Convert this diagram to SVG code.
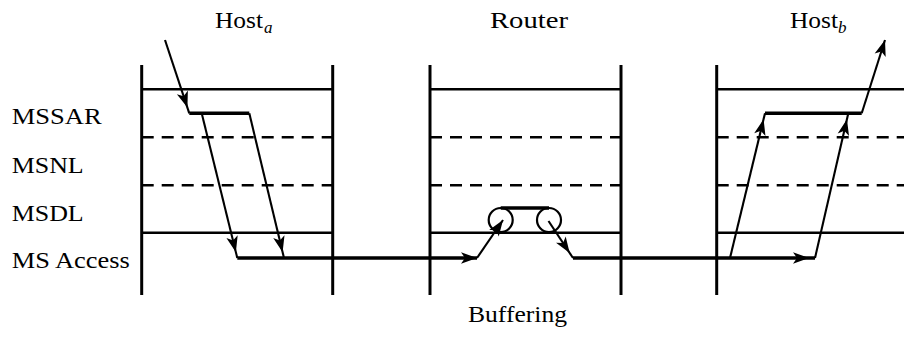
<svg xmlns="http://www.w3.org/2000/svg" width="904" height="337" viewBox="0 0 904 337">
  <style>
    .lbl { font-family: "Liberation Serif", "Times New Roman", serif; font-size: 24px; fill: #000; }
    .sub { font-family: "Liberation Serif", "Times New Roman", serif; font-size: 17px; font-style: italic; fill: #000; }
    .wall { stroke: #000; stroke-width: 3; fill: none; }
    .layer { stroke: #000; stroke-width: 2.4; fill: none; }
    .dash { stroke: #000; stroke-width: 2.4; stroke-dasharray: 12 8; fill: none; }
    .flow { stroke: #000; stroke-width: 3.6; fill: none; stroke-linejoin: miter; }
    .thin { stroke: #000; stroke-width: 2.1; fill: none; }
    .buf { stroke: #000; stroke-width: 2.2; fill: none; }
  </style>
  <defs>
    <!-- filled arrowhead, tip exactly at the path end -->
    <marker id="tip" markerUnits="userSpaceOnUse" viewBox="-17 -7 18 14" refX="0" refY="0" markerWidth="18" markerHeight="14" orient="auto">
      <path d="M0,0 L-16,-5.8 L-12,0 L-16,5.8 Z" fill="#000"/>
    </marker>
    <!-- same arrowhead, tip drawn a few pixels before the path end -->
    <marker id="tipBack" markerUnits="userSpaceOnUse" viewBox="-17 -7 24 14" refX="6" refY="0" markerWidth="24" markerHeight="14" orient="auto">
      <path d="M0,0 L-16,-5.8 L-12,0 L-16,5.8 Z" fill="#000"/>
    </marker>
  </defs>

  <!-- layer names -->
  <g id="layer-labels">
    <text class="lbl" x="11.7" y="124" textLength="90" lengthAdjust="spacingAndGlyphs">MSSAR</text>
    <text class="lbl" x="11.7" y="173" textLength="72" lengthAdjust="spacingAndGlyphs">MSNL</text>
    <text class="lbl" x="11.7" y="221" textLength="72" lengthAdjust="spacingAndGlyphs">MSDL</text>
    <text class="lbl" x="11.7" y="268" textLength="118" lengthAdjust="spacingAndGlyphs">MS Access</text>
  </g>

  <!-- sending host stack -->
  <g id="host-a">
    <text class="lbl" x="215" y="28" textLength="48" lengthAdjust="spacingAndGlyphs">Host</text>
    <text class="sub" x="264" y="33">a</text>
    <line class="wall" x1="141.7" y1="65" x2="141.7" y2="295"/>
    <line class="wall" x1="332.7" y1="65" x2="332.7" y2="295"/>
    <line class="layer" x1="141.7" y1="89.3" x2="332.7" y2="89.3"/>
    <line class="dash" x1="141.7" y1="137.3" x2="332.7" y2="137.3"/>
    <line class="dash" x1="141.7" y1="185.3" x2="332.7" y2="185.3"/>
    <line class="layer" x1="141.7" y1="232.7" x2="332.7" y2="232.7"/>
  </g>

  <!-- router stack -->
  <g id="router">
    <text class="lbl" x="490" y="28" textLength="78" lengthAdjust="spacingAndGlyphs">Router</text>
    <line class="wall" x1="430" y1="65" x2="430" y2="295"/>
    <line class="wall" x1="621" y1="65" x2="621" y2="295"/>
    <line class="layer" x1="430" y1="89.3" x2="621" y2="89.3"/>
    <line class="dash" x1="430" y1="137.3" x2="621" y2="137.3"/>
    <line class="dash" x1="430" y1="185.3" x2="621" y2="185.3"/>
    <line class="layer" x1="430" y1="232.7" x2="621" y2="232.7"/>
  </g>

  <!-- receiving host stack -->
  <g id="host-b">
    <text class="lbl" x="790" y="28" textLength="48" lengthAdjust="spacingAndGlyphs">Host</text>
    <text class="sub" x="838" y="33">b</text>
    <line class="wall" x1="716.7" y1="65" x2="716.7" y2="295"/>
    <line class="layer" x1="716.7" y1="89.3" x2="904" y2="89.3"/>
    <line class="dash" x1="716.7" y1="137.3" x2="904" y2="137.3"/>
    <line class="dash" x1="716.7" y1="185.3" x2="904" y2="185.3"/>
    <line class="layer" x1="716.7" y1="232.7" x2="904" y2="232.7"/>
  </g>

  <!-- buffer queue inside the router -->
  <g id="buffer">
    <circle class="buf" cx="500.7" cy="220" r="12"/>
    <circle class="buf" cx="549" cy="220" r="12"/>
    <line class="flow" x1="500.7" y1="208" x2="549" y2="208"/>
    <text class="lbl" x="468" y="322" textLength="99" lengthAdjust="spacingAndGlyphs">Buffering</text>
  </g>

  <!-- message path -->
  <g id="connectors">
    <path class="thin" d="M165,40 L189.3,113.3" marker-end="url(#tipBack)"/>
    <path class="flow" d="M189.3,113.3 H249.3"/>
    <path class="thin" d="M201.7,113.3 L237.3,258" marker-end="url(#tipBack)"/>
    <path class="thin" d="M249.3,113.3 L284,258" marker-end="url(#tipBack)"/>
    <path class="flow" d="M237.3,258 H477" marker-end="url(#tip)"/>
    <path class="thin" d="M477,258 L503,220" marker-end="url(#tip)"/>
    <path class="thin" d="M548.5,221 L573,258" marker-end="url(#tipBack)"/>
    <path class="flow" d="M573,258 H815" marker-end="url(#tipBack)"/>
    <path class="thin" d="M730,258 L765,113.3" marker-end="url(#tipBack)"/>
    <path class="thin" d="M815,258 L848.3,113.3" marker-end="url(#tipBack)"/>
    <path class="flow" d="M765,113.3 H861.7"/>
    <path class="thin" d="M861.7,113.3 L885,40" marker-end="url(#tip)"/>
  </g>
</svg>
